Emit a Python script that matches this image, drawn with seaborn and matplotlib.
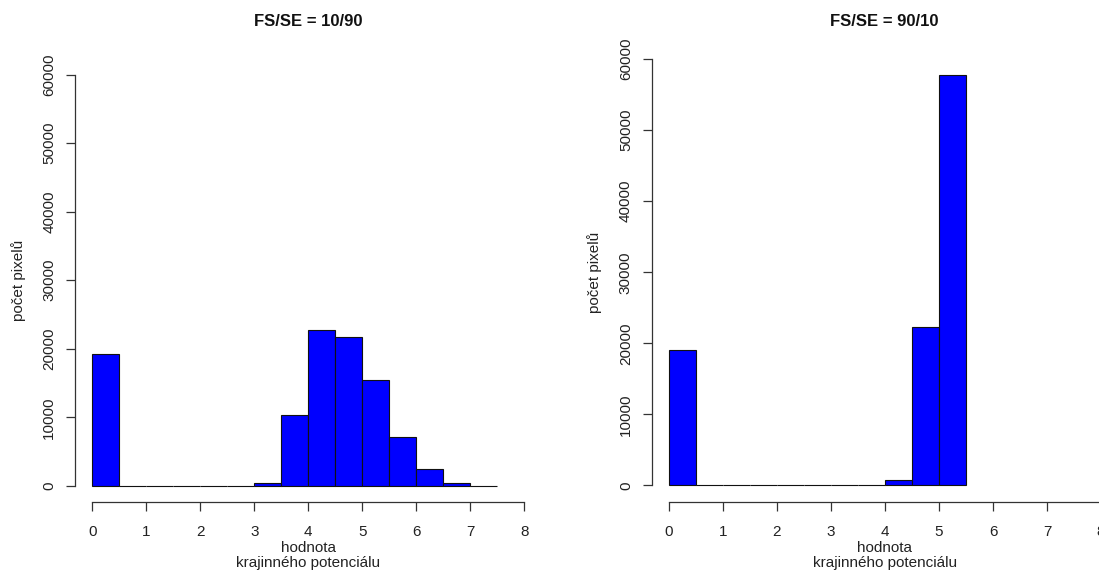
import matplotlib
matplotlib.use("Agg")
import matplotlib.pyplot as plt
import numpy as np
import seaborn as sns

# histogram bins (left edges, width 0.5) and counts
bin_width = 0.5
left_edges = [0.0, 0.5, 1.0, 1.5, 2.0, 2.5, 3.0, 3.5, 4.0, 4.5, 5.0, 5.5, 6.0, 6.5, 7.0]
left_counts = [19300, 0, 0, 0, 0, 0, 350, 10300, 22800, 21700, 15400, 7200, 2500, 350, 0]

right_edges = [0.0, 0.5, 1.0, 1.5, 2.0, 2.5, 3.0, 3.5, 4.0, 4.5, 5.0]
right_counts = [19100, 0, 0, 0, 0, 0, 0, 0, 800, 22300, 57800]

titles = ["FS/SE = 10/90", "FS/SE = 90/10"]
x_ticks = [0, 1, 2, 3, 4, 5, 6, 7, 8]
y_ticks = [0, 10000, 20000, 30000, 40000, 50000, 60000]
x_label = "hodnota\nkrajinného potenciálu"
y_label = "počet pixelů"

sns.set_style("ticks")
plt.rcParams['font.family'] = ['Liberation Sans', 'DejaVu Sans']

fig = plt.figure(figsize=(10.99, 5.76), dpi=100)
ax_l = fig.add_axes([0.06824, 0.12795, 0.42457, 0.77101])
ax_r = fig.add_axes([0.59299, 0.12795, 0.42457, 0.79878])

panels = [(ax_l, left_edges, left_counts, titles[0], 308),
          (ax_r, right_edges, right_counts, titles[1], 884)]

for ax, edges, counts, title, cx in panels:
    centers = np.array(edges) + bin_width / 2
    bins = list(edges) + [edges[-1] + bin_width]
    sns.histplot(x=centers, weights=counts, bins=bins, ax=ax,
                 color="#0000ff", edgecolor="#111111", linewidth=0.8, alpha=1)
    ax.set_xlim(-0.32, 8.32)
    ax.set_ylim(-2400, 62400)
    ax.set_xticks(x_ticks)
    ax.set_yticks(y_ticks)
    ax.set_yticklabels([str(v) for v in y_ticks], rotation=90, va="center")
    for s in ["top", "right"]:
        ax.spines[s].set_visible(False)
    ax.spines["left"].set_bounds(0, 60000)
    ax.spines["bottom"].set_bounds(0, 8)
    for s in ["left", "bottom"]:
        ax.spines[s].set_color("#333333")
        ax.spines[s].set_linewidth(0.9)
    ax.tick_params(axis="both", length=6.5, width=0.9, color="#333333",
                   labelsize=11, labelcolor="#222222")
    ax.tick_params(axis="x", pad=10)
    ax.tick_params(axis="y", pad=7)
    ax.set_xlabel(x_label, fontsize=11, color="#222222", labelpad=1, linespacing=1.1)
    ax.set_ylabel(y_label, fontsize=11, color="#222222", labelpad=12)
    fig.text(cx / 1099, 1 - 22 / 576, title, ha="center", va="center",
             fontsize=12, fontweight="bold", color="#111111")

fig.savefig("out.png", dpi=100)
